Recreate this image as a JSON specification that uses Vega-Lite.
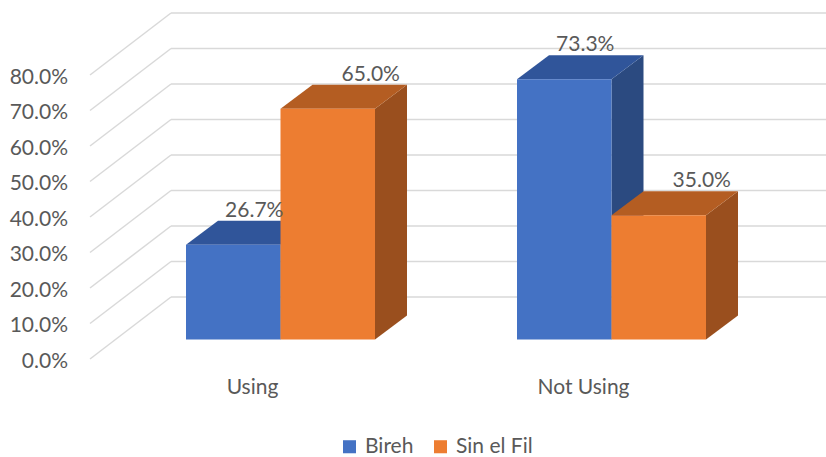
{
  "$schema": "https://vega.github.io/schema/vega-lite/v6.json",
  "width": 826,
  "height": 457,
  "autosize": {"type": "none"},
  "padding": 0,
  "background": "white",
  "config": {
    "view": {"stroke": null},
    "axis": {"disable": true},
    "font": "Lato",
    "text": {"font": "Lato", "fontSize": 21, "color": "#595959"},
    "legend": {
      "orient": "none",
      "legendX": 339,
      "legendY": 436,
      "direction": "horizontal",
      "symbolType": "square",
      "symbolSize": 170,
      "symbolStrokeWidth": 0,
      "labelFont": "Lato",
      "labelFontSize": 21,
      "labelColor": "#595959",
      "labelOffset": 5,
      "columnPadding": 16
    }
  },
  "datasets": {
    "shares": [
      {"category": "Using", "series": "Bireh", "value": 0.267},
      {"category": "Using", "series": "Sin el Fil", "value": 0.65},
      {"category": "Not Using", "series": "Bireh", "value": 0.733},
      {"category": "Not Using", "series": "Sin el Fil", "value": 0.35}
    ],
    "ticks": [
      {"tick": 0}, {"tick": 0.1}, {"tick": 0.2}, {"tick": 0.3}, {"tick": 0.4},
      {"tick": 0.5}, {"tick": 0.6}, {"tick": 0.7}, {"tick": 0.8}
    ]
  },
  "resolve": {"scale": {"color": "independent"}},
  "layer": [
    {
      "data": {"name": "ticks"},
      "transform": [
        {"calculate": "datum.tick - 19.5/355", "as": "fy"},
        {"calculate": "datum.tick + 42.5/355", "as": "by"}
      ],
      "mark": {"type": "rule", "color": "#D9D9D9", "strokeWidth": 1.5},
      "encoding": {
        "x": {"datum": 90, "type": "quantitative", "scale": {"domain": [0, 826], "nice": false, "zero": false}},
        "x2": {"datum": 171},
        "y": {"field": "fy", "type": "quantitative", "scale": {"domain": [-0.331, 0.9563], "nice": false, "zero": false}},
        "y2": {"field": "by"}
      }
    },
    {
      "data": {"name": "ticks"},
      "transform": [
        {"calculate": "datum.tick + 42.5/355", "as": "by"}
      ],
      "mark": {"type": "rule", "color": "#D9D9D9", "strokeWidth": 1.5},
      "encoding": {
        "x": {"datum": 171, "type": "quantitative", "scale": {"domain": [0, 826], "nice": false, "zero": false}},
        "x2": {"datum": 826},
        "y": {"field": "by", "type": "quantitative", "scale": {"domain": [-0.331, 0.9563], "nice": false, "zero": false}}
      }
    },
    {
      "data": {"name": "ticks"},
      "transform": [
        {"calculate": "datum.tick - 19.5/355", "as": "fy"},
        {"calculate": "format(datum.tick, '.1%')", "as": "label"}
      ],
      "mark": {"type": "text", "align": "right", "baseline": "middle", "dy": 3},
      "encoding": {
        "x": {"datum": 68, "type": "quantitative", "scale": {"domain": [0, 826], "nice": false, "zero": false}},
        "y": {"field": "fy", "type": "quantitative", "scale": {"domain": [-0.331, 0.9563], "nice": false, "zero": false}},
        "text": {"field": "label"}
      }
    },
    {
      "data": {"name": "shares"},
      "transform": [
        {"calculate": "(datum.category == 'Using' ? 186 : 517) + (datum.series == 'Bireh' ? 0 : 94.5)", "as": "xl"},
        {"calculate": "datum.xl + 94.5", "as": "xr"},
        {"calculate": "datum.category + '|' + datum.series", "as": "key"},
        {"calculate": "[0, 1]", "as": "t"},
        {"flatten": ["t"]},
        {"calculate": "datum.xr + 32 * datum.t", "as": "sx"},
        {"calculate": "datum.value + datum.t * 24 / 355", "as": "sy"},
        {"calculate": "datum.t * 24 / 355", "as": "sy0"}
      ],
      "mark": {"type": "area", "orient": "vertical"},
      "encoding": {
        "x": {"field": "sx", "type": "quantitative", "scale": {"domain": [0, 826], "nice": false, "zero": false}},
        "y": {"field": "sy", "type": "quantitative", "scale": {"domain": [-0.331, 0.9563], "nice": false, "zero": false}},
        "y2": {"field": "sy0"},
        "detail": {"field": "key"},
        "color": {"field": "series", "type": "nominal", "scale": {"domain": ["Bireh", "Sin el Fil"], "range": ["#2B4A80", "#9A4F1E"]}, "legend": null}
      }
    },
    {
      "data": {"name": "shares"},
      "transform": [
        {"calculate": "(datum.category == 'Using' ? 186 : 517) + (datum.series == 'Bireh' ? 0 : 94.5)", "as": "xl"},
        {"calculate": "datum.xl + 94.5", "as": "xr"},
        {"calculate": "datum.category + '|' + datum.series", "as": "key"},
        {"calculate": "[0, 1]", "as": "t"},
        {"flatten": ["t"]},
        {"calculate": "datum.xl + 32 * datum.t", "as": "tx"},
        {"calculate": "datum.xr + 32 * datum.t", "as": "tx2"},
        {"calculate": "datum.value + datum.t * 24 / 355", "as": "ty"}
      ],
      "mark": {"type": "area", "orient": "horizontal"},
      "encoding": {
        "y": {"field": "ty", "type": "quantitative", "scale": {"domain": [-0.331, 0.9563], "nice": false, "zero": false}},
        "x": {"field": "tx", "type": "quantitative", "scale": {"domain": [0, 826], "nice": false, "zero": false}},
        "x2": {"field": "tx2"},
        "detail": {"field": "key"},
        "color": {"field": "series", "type": "nominal", "scale": {"domain": ["Bireh", "Sin el Fil"], "range": ["#30559A", "#B45D22"]}, "legend": null}
      }
    },
    {
      "data": {"name": "shares"},
      "transform": [
        {"calculate": "(datum.category == 'Using' ? 186 : 517) + (datum.series == 'Bireh' ? 0 : 94.5)", "as": "xl"},
        {"calculate": "datum.xl + 94.5", "as": "xr"}
      ],
      "mark": {"type": "rect"},
      "encoding": {
        "x": {"field": "xl", "type": "quantitative", "scale": {"domain": [0, 826], "nice": false, "zero": false}},
        "x2": {"field": "xr"},
        "y": {"field": "value", "type": "quantitative", "scale": {"domain": [-0.331, 0.9563], "nice": false, "zero": false}},
        "y2": {"datum": 0},
        "color": {"field": "series", "type": "nominal", "title": null, "scale": {"domain": ["Bireh", "Sin el Fil"], "range": ["#4472C4", "#ED7D31"]}}
      }
    },
    {
      "data": {"name": "shares"},
      "transform": [
        {"calculate": "(datum.category == 'Using' ? 186 : 517) + (datum.series == 'Bireh' ? 0 : 94.5)", "as": "xl"},
        {"calculate": "datum.xl + 32 + 47.25", "as": "lx"},
        {"calculate": "datum.value + 24 / 355", "as": "ly"},
        {"calculate": "format(datum.value, '.1%')", "as": "label"}
      ],
      "layer": [
        {
          "transform": [{"filter": "datum.series == 'Bireh'"}],
          "mark": {"type": "text", "baseline": "alphabetic", "dy": -4, "dx": -11},
          "encoding": {
            "x": {"field": "lx", "type": "quantitative", "scale": {"domain": [0, 826], "nice": false, "zero": false}},
            "y": {"field": "ly", "type": "quantitative", "scale": {"domain": [-0.331, 0.9563], "nice": false, "zero": false}},
            "text": {"field": "label"}
          }
        },
        {
          "transform": [{"filter": "datum.series == 'Sin el Fil'"}],
          "mark": {"type": "text", "baseline": "alphabetic", "dy": -4, "dx": 11},
          "encoding": {
            "x": {"field": "lx", "type": "quantitative", "scale": {"domain": [0, 826], "nice": false, "zero": false}},
            "y": {"field": "ly", "type": "quantitative", "scale": {"domain": [-0.331, 0.9563], "nice": false, "zero": false}},
            "text": {"field": "label"}
          }
        }
      ]
    },
    {
      "data": {"name": "shares"},
      "transform": [
        {"filter": "datum.series == 'Bireh'"},
        {"calculate": "(datum.category == 'Using' ? 186 : 517) + 94.5 - 28", "as": "cx"}
      ],
      "mark": {"type": "text", "baseline": "middle"},
      "encoding": {
        "x": {"field": "cx", "type": "quantitative", "scale": {"domain": [0, 826], "nice": false, "zero": false}},
        "y": {"datum": -0.1366, "type": "quantitative", "scale": {"domain": [-0.331, 0.9563], "nice": false, "zero": false}},
        "text": {"field": "category"}
      }
    }
  ]
}
